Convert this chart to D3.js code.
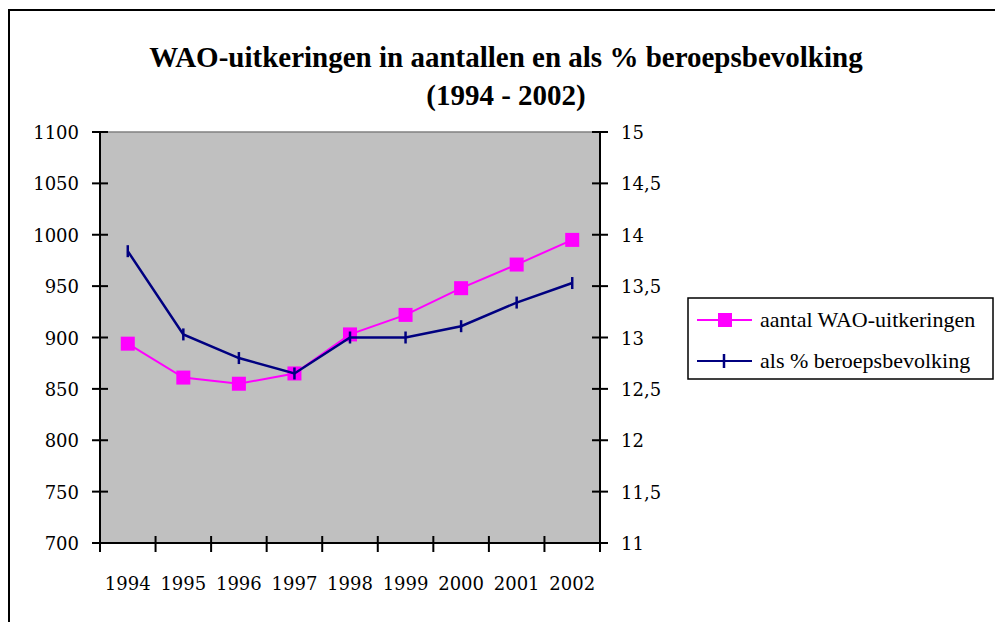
<!DOCTYPE html>
<html><head><meta charset="utf-8">
<script src="https://cdn.jsdelivr.net/npm/d3@7"></script>
<style>body{margin:0;background:#fff}svg{display:block}
svg text{font-family:"Liberation Serif";}
svg text.tick{font-family:"DejaVu Serif";}
</style>
</head><body><svg id="c" width="995" height="622" font-family="Liberation Serif"></svg>
<script>
const years = ["1994","1995","1996","1997","1998","1999","2000","2001","2002"];
const aantal = [894, 861, 855, 865, 903, 922, 948, 971, 995];
const procent = [13.84, 13.03, 12.8, 12.65, 13.0, 13.0, 13.11, 13.34, 13.53];
const leftTicks = [700,750,800,850,900,950,1000,1050,1100];
const rightTicks = [11,11.5,12,12.5,13,13.5,14,14.5,15];
const titleLines = ["WAO-uitkeringen in aantallen en als % beroepsbevolking","(1994 - 2002)"];
const legendLabels = ["aantal WAO-uitkeringen","als % beroepsbevolking"];

const svg = d3.select("#c");
const L=100, R=600, T=132, B=543;

svg.append("rect").attr("x",9).attr("y",10).attr("width",1100).attr("height",700)
  .attr("fill","#fff").attr("stroke","#000").attr("stroke-width",2);

svg.selectAll("text.title").data(titleLines).join("text").attr("class","title")
  .attr("font-weight","bold").attr("font-size",29)
  .attr("x",506).attr("y",(d,i)=>67+i*38).attr("text-anchor","middle")
  .text(d=>d);

const x = d3.scaleBand().domain(years).range([L,R]);
const yL = d3.scaleLinear().domain([700,1100]).range([B,T]);
const yR = d3.scaleLinear().domain([11,15]).range([B,T]);

svg.append("rect").attr("x",L).attr("y",T).attr("width",R-L).attr("height",B-T).attr("fill","#c0c0c0");
svg.append("line").attr("x1",L).attr("x2",R).attr("y1",T).attr("y2",T).attr("stroke","#808080").attr("stroke-width",1.5);

// left axis
const gl = svg.append("g").attr("transform",`translate(${L},0)`);
gl.append("line").attr("y1",T).attr("y2",B+8).attr("stroke","#000").attr("stroke-width",2);
gl.selectAll("line.t").data(leftTicks).join("line").attr("x1",-8).attr("x2",8)
  .attr("y1",d=>yL(d)).attr("y2",d=>yL(d)).attr("stroke","#000").attr("stroke-width",2);
gl.selectAll("text").data(leftTicks).join("text").attr("class","tick").attr("font-size",18)
  .attr("x",-21).attr("y",d=>yL(d)+7).attr("text-anchor","end").text(d=>d);

// right axis
const gr = svg.append("g").attr("transform",`translate(${R},0)`);
gr.append("line").attr("y1",T).attr("y2",B+8).attr("stroke","#000").attr("stroke-width",2);
gr.selectAll("line.t").data(rightTicks).join("line").attr("x1",-8).attr("x2",8)
  .attr("y1",d=>yR(d)).attr("y2",d=>yR(d)).attr("stroke","#000").attr("stroke-width",2);
gr.selectAll("text").data(rightTicks).join("text").attr("class","tick").attr("font-size",18)
  .attr("x",21).attr("y",d=>yR(d)+7)
  .text(d=>String(d).replace(".",","));

// x axis
svg.append("line").attr("x1",L-8).attr("x2",R+8).attr("y1",B).attr("y2",B).attr("stroke","#000").attr("stroke-width",2);
const bounds = years.map(d=>x(d)).concat([R]);
svg.selectAll("line.xt").data(bounds).join("line").attr("class","xt").attr("x1",d=>d).attr("x2",d=>d)
  .attr("y1",B-7).attr("y2",B+9).attr("stroke","#000").attr("stroke-width",2);
svg.selectAll("text.xl").data(years).join("text").attr("class","xl tick").attr("font-size",18)
  .attr("x",d=>x(d)+x.bandwidth()/2).attr("y",B+47).attr("text-anchor","middle").text(d=>d);

const cx = d=>x(d)+x.bandwidth()/2;
// pink series
svg.append("path").datum(aantal).attr("fill","none").attr("stroke","#ff00ff").attr("stroke-width",2)
  .attr("d",d3.line().x((d,i)=>cx(years[i])).y(d=>yL(d)));
svg.selectAll("rect.m").data(aantal).join("rect").attr("class","m")
  .attr("x",(d,i)=>cx(years[i])-7).attr("y",d=>yL(d)-7).attr("width",14).attr("height",14).attr("fill","#ff00ff");
// blue series
svg.append("path").datum(procent).attr("fill","none").attr("stroke","#000080").attr("stroke-width",2.5)
  .attr("d",d3.line().x((d,i)=>cx(years[i])).y(d=>yR(d)));
svg.selectAll("line.bm").data(procent).join("line").attr("class","bm")
  .attr("x1",(d,i)=>cx(years[i])).attr("x2",(d,i)=>cx(years[i]))
  .attr("y1",d=>yR(d)-6).attr("y2",d=>yR(d)+6).attr("stroke","#000080").attr("stroke-width",2.5);

// legend
const lg = svg.append("g");
lg.append("rect").attr("x",688).attr("y",298).attr("width",305).attr("height",81)
  .attr("fill","#fff").attr("stroke","#000").attr("stroke-width",1.5);
const rows = [{c:"#ff00ff",m:"sq"},{c:"#000080",m:"tick"}];
rows.forEach((r,i)=>{
  const yy = 320+i*41;
  lg.append("line").attr("x1",697).attr("x2",752).attr("y1",yy).attr("y2",yy).attr("stroke",r.c).attr("stroke-width",2);
  if(r.m==="sq") lg.append("rect").attr("x",718).attr("y",yy-7).attr("width",14).attr("height",14).attr("fill",r.c);
  else lg.append("line").attr("x1",724).attr("x2",724).attr("y1",yy-7).attr("y2",yy+7).attr("stroke",r.c).attr("stroke-width",2.5);
  lg.append("text").attr("font-size",22).attr("x",760).attr("y",yy+7).text(legendLabels[i]);
});
</script></body></html>
